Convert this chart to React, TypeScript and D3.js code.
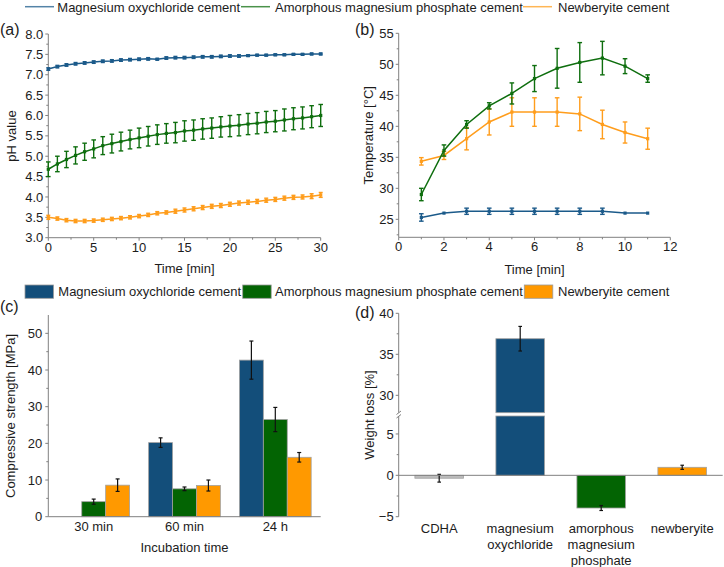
import React from 'react';
import * as d3 from 'd3';

const FONT = '"Liberation Sans", Arial, Helvetica, sans-serif';
const TXT = '#1c1c1c';
const AX = '#808080';

const seriesNames = ['Magnesium oxychloride cement', 'Amorphous magnesium phosphate cement', 'Newberyite cement'];
const lineColors = ['#1b5a8a', '#0e6e0e', '#ff9d1c'];
const barColors = ['#134e7a', '#036403', '#ff9900'];
const grayColor = '#bdbdbd';

// Panel (a): pH vs time
const timeA = [0,1,2,3,4,5,6,7,8,9,10,11,12,13,14,15,16,17,18,19,20,21,22,23,24,25,26,27,28,29,30];
const phMOC = [7.14,7.20,7.24,7.27,7.29,7.31,7.33,7.34,7.36,7.37,7.38,7.39,7.38,7.41,7.42,7.42,7.43,7.44,7.44,7.45,7.46,7.46,7.47,7.48,7.48,7.49,7.49,7.50,7.50,7.51,7.51];
const phMOCErr = [0.03,0.03,0.03,0.03,0.03,0.03,0.03,0.03,0.03,0.03,0.03,0.03,0.02,0.03,0.03,0.03,0.03,0.03,0.03,0.03,0.03,0.03,0.02,0.02,0.02,0.02,0.02,0.02,0.02,0.02,0.02];
const phAMPC = [4.68,4.81,4.92,5.02,5.11,5.18,5.26,5.31,5.36,5.41,5.45,5.49,5.53,5.56,5.58,5.62,5.64,5.67,5.69,5.72,5.74,5.76,5.79,5.81,5.84,5.86,5.89,5.92,5.94,5.97,6.0];
const phAMPCErr = [0.18,0.19,0.2,0.21,0.21,0.22,0.22,0.23,0.23,0.23,0.24,0.24,0.24,0.24,0.25,0.25,0.25,0.25,0.25,0.25,0.26,0.26,0.26,0.26,0.26,0.26,0.27,0.27,0.27,0.27,0.27];
const phNB = [3.5,3.47,3.43,3.41,3.41,3.42,3.44,3.46,3.48,3.5,3.53,3.56,3.6,3.62,3.65,3.68,3.71,3.74,3.77,3.79,3.82,3.85,3.87,3.89,3.92,3.94,3.97,3.99,4.0,4.02,4.05];
const phNBErr = [0.05,0.04,0.04,0.04,0.04,0.04,0.04,0.04,0.04,0.04,0.04,0.04,0.04,0.04,0.05,0.05,0.05,0.05,0.05,0.05,0.05,0.05,0.05,0.05,0.05,0.05,0.05,0.05,0.05,0.06,0.06];
const xTicksA = [0,5,10,15,20,25,30];
const yTicksA = [3.0,3.5,4.0,4.5,5.0,5.5,6.0,6.5,7.0,7.5,8.0];

// Panel (b): temperature vs time
const timeB = [1,2,3,4,5,6,7,8,9,10,11];
const tMOC = [25.3,26.0,26.3,26.3,26.3,26.3,26.3,26.3,26.3,26.0,26.0];
const tMOCErr = [0.6,0,0.5,0.5,0.5,0.5,0.5,0.5,0.5,0,0];
const tAMPC = [29.0,36.1,40.3,43.3,45.3,47.7,49.35,50.3,51.0,49.7,47.7];
const tAMPCErr = [1.0,0.9,0.6,0.5,1.7,2.1,3.2,3.2,2.7,1.2,0.6];
const tNB = [34.35,35.3,38.0,40.7,42.3,42.3,42.3,42.0,40.3,39.0,38.0];
const tNBErr = [0.6,0.65,1.8,2.1,2.3,2.3,2.3,2.7,2.3,1.7,1.7];
const xTicksB = [0,2,4,6,8,10,12];
const yTicksB = [25,30,35,40,45,50,55];

// Panel (c): compressive strength
const incubation = ['30 min', '60 min', '24 h'];
const csMOC = [0, 20.2, 42.7];
const csMOCErr = [0, 1.3, 5.2];
const csAMPC = [4.1, 7.6, 26.5];
const csAMPCErr = [0.7, 0.5, 3.3];
const csNB = [8.6, 8.5, 16.2];
const csNBErr = [1.7, 1.5, 1.3];
const yTicksC = [0,10,20,30,40,50];

// Panel (d): weight loss
const wlCats = ['CDHA', 'magnesium oxychloride', 'amorphous magnesium phosphate', 'newberyite'];
const wlLabels = [['CDHA'], ['magnesium', 'oxychloride'], ['amorphous', 'magnesium', 'phosphate'], ['newberyite']];
const wlValues = [-0.35, 36.9, -3.95, 0.97];
const wlErr = [0.47, 1.5, 0.3, 0.25];
const yTicksDLow = [-5, 0, 5];
const yTicksDHigh = [30, 35, 40];

function mids(arr: number[]) {
  const out: number[] = [];
  for (let i = 0; i < arr.length - 1; i++) out.push((arr[i] + arr[i + 1]) / 2);
  return out;
}

function YAxis({ x, scale, ticks, minor, fmt, y0, y1, gap = 5 }: any) {
  return (
    <g>
      <line x1={x} x2={x} y1={y0} y2={y1} stroke={AX} strokeWidth={1} />
      {ticks.map((t: number, i: number) => (
        <g key={'t' + i}>
          <line x1={x - 3} x2={x} y1={scale(t)} y2={scale(t)} stroke={AX} />
          <text x={x - gap} y={scale(t)} dy="0.35em" textAnchor="end" fontSize={13} fill={TXT}>{fmt(t)}</text>
        </g>
      ))}
      {minor.map((t: number, i: number) => (
        <line key={'m' + i} x1={x - 2} x2={x} y1={scale(t)} y2={scale(t)} stroke={AX} />
      ))}
    </g>
  );
}

function XAxis({ y, scale, ticks, minor, fmt, x0, x1 }: any) {
  return (
    <g>
      <line x1={x0} x2={x1} y1={y} y2={y} stroke={AX} strokeWidth={1} />
      {ticks.map((t: number, i: number) => (
        <g key={'t' + i}>
          <line x1={scale(t)} x2={scale(t)} y1={y} y2={y + 3} stroke={AX} />
          <text x={scale(t)} y={y + 14} textAnchor="middle" fontSize={13} fill={TXT}>{fmt(t)}</text>
        </g>
      ))}
      {minor.map((t: number, i: number) => (
        <line key={'m' + i} x1={scale(t)} x2={scale(t)} y1={y} y2={y + 2} stroke={AX} />
      ))}
    </g>
  );
}

function Series({ xs, ys, errs, xScale, yScale, color, cap = 2.5 }: any) {
  const line = d3.line<number>().x((_, i) => xScale(xs[i])).y((d) => yScale(d));
  return (
    <g>
      <path d={line(ys) || ''} fill="none" stroke={color} strokeWidth={1.5} />
      {ys.map((v: number, i: number) => {
        const cx = xScale(xs[i]);
        const e = errs[i];
        return (
          <g key={i}>
            {e > 0 && (
              <g stroke={color} strokeWidth={1.4}>
                <line x1={cx} x2={cx} y1={yScale(v - e)} y2={yScale(v + e)} />
                <line x1={cx - cap} x2={cx + cap} y1={yScale(v - e)} y2={yScale(v - e)} />
                <line x1={cx - cap} x2={cx + cap} y1={yScale(v + e)} y2={yScale(v + e)} />
              </g>
            )}
            <rect x={cx - 1.6} y={yScale(v) - 1.6} width={3.2} height={3.2} fill={color} />
          </g>
        );
      })}
    </g>
  );
}

function ErrBar({ cx, yTop, yBot, cap = 2 }: any) {
  return (
    <g stroke="#111" strokeWidth={1.2}>
      <line x1={cx} x2={cx} y1={yTop} y2={yBot} />
      <line x1={cx - cap} x2={cx + cap} y1={yTop} y2={yTop} />
      <line x1={cx - cap} x2={cx + cap} y1={yBot} y2={yBot} />
    </g>
  );
}

export default function App() {
  const f1 = d3.format('.1f');
  const f0 = d3.format('d');

  // (a)
  const xA = d3.scaleLinear().domain([0, 30]).range([48.3, 320.7]);
  const yA = d3.scaleLinear().domain([3, 8]).range([237.7, 34]);
  // (b)
  const xB = d3.scaleLinear().domain([0, 12]).range([398.7, 670.3]);
  const yB = d3.scaleLinear().domain([22.1, 55]).range([237.3, 33.3]);
  // (c)
  const xC = d3.scaleBand<string>().domain(incubation).range([48.3, 320.7]).padding(0);
  const yC = d3.scaleLinear().domain([0, 55]).range([516.7, 315]);
  const groupW = xC.bandwidth() * 0.79;
  const xCin = d3.scaleBand<number>().domain([0, 1, 2]).range([0, groupW]).padding(0);
  const csVals = [csMOC, csAMPC, csNB];
  const csErrs = [csMOCErr, csAMPCErr, csNBErr];
  // (d)
  const xD = d3.scaleBand<string>().domain(wlCats).range([398.7, 722.7]).padding(0);
  const lowTop = 7.17;
  const highBot = 27.88;
  const yDLow = d3.scaleLinear().domain([-5, lowTop]).range([516.7, 416]);
  const yDHigh = d3.scaleLinear().domain([highBot, 40]).range([412.7, 313.3]);
  const dColors = [grayColor, barColors[0], barColors[1], barColors[2]];
  const yD = (v: number) => (v > lowTop ? yDHigh(v) : yDLow(v));

  const lineLegendX = [[25, 57.3], [241, 275], [523, 558]];
  const barLegendX = [[25, 58.3], [242.7, 275], [524.3, 558]];

  return (
    <div style={{ position: 'absolute', left: 0, top: 0 }}>
      <svg width={724} height={567} style={{ display: 'block', background: '#fff' }} fontFamily={FONT}>
        {/* top line legend */}
        {seriesNames.map((n, i) => (
          <g key={'ll' + i}>
            <line x1={lineLegendX[i][0]} x2={lineLegendX[i][0] + 29} y1={6.7} y2={6.7} stroke={lineColors[i]} strokeWidth={1.5} strokeOpacity={0.75} />
            <text x={lineLegendX[i][1]} y={11.5} fontSize={13} fill={TXT}>{n}</text>
          </g>
        ))}

        {/* Panel (a) */}
        <text x={0} y={35} fontSize={16} fill={TXT}>(a)</text>
        <YAxis x={48.3} scale={yA} ticks={yTicksA} minor={mids(yTicksA)} fmt={f1} y0={yA(8)} y1={yA(3)} />
        <XAxis y={237.7} scale={xA} ticks={xTicksA} minor={mids(xTicksA)} fmt={f0} x0={xA(0)} x1={xA(30)} />
        <Series xs={timeA} ys={phNB} errs={phNBErr} xScale={xA} yScale={yA} color={lineColors[2]} cap={2} />
        <Series xs={timeA} ys={phAMPC} errs={phAMPCErr} xScale={xA} yScale={yA} color={lineColors[1]} cap={2.3} />
        <Series xs={timeA} ys={phMOC} errs={phMOCErr} xScale={xA} yScale={yA} color={lineColors[0]} cap={2} />
        <text transform={`translate(16,136) rotate(-90)`} textAnchor="middle" fontSize={13} fill={TXT}>pH value</text>
        <text x={184.5} y={273} textAnchor="middle" fontSize={13} fill={TXT}>Time [min]</text>

        {/* Panel (b) */}
        <text x={355} y={35} fontSize={16} fill={TXT}>(b)</text>
        <YAxis x={398.7} scale={yB} ticks={yTicksB} minor={[27.5, 32.5, 37.5, 42.5, 47.5, 52.5, 22.5]} fmt={f0} y0={yB(55)} y1={yB(22.1)} />
        <XAxis y={237.3} scale={xB} ticks={xTicksB} minor={mids(xTicksB)} fmt={f0} x0={xB(0)} x1={xB(12)} />
        <Series xs={timeB} ys={tNB} errs={tNBErr} xScale={xB} yScale={yB} color={lineColors[2]} cap={2.3} />
        <Series xs={timeB} ys={tAMPC} errs={tAMPCErr} xScale={xB} yScale={yB} color={lineColors[1]} cap={2.3} />
        <Series xs={timeB} ys={tMOC} errs={tMOCErr} xScale={xB} yScale={yB} color={lineColors[0]} cap={2.3} />
        <text transform={`translate(373,135.3) rotate(-90)`} textAnchor="middle" fontSize={13} fill={TXT}>Temperature [°C]</text>
        <text x={534.5} y={274} textAnchor="middle" fontSize={13} fill={TXT}>Time [min]</text>

        {/* bar legend */}
        {seriesNames.map((n, i) => (
          <g key={'bl' + i}>
            <rect x={barLegendX[i][0]} y={285} width={28.5} height={13.3} fill={barColors[i]} stroke="#9a9a9a" strokeWidth={0.8} />
            <text x={barLegendX[i][1]} y={296} fontSize={13} fill={TXT}>{n}</text>
          </g>
        ))}

        {/* Panel (c) */}
        <text x={0} y={312} fontSize={16} fill={TXT}>(c)</text>
        {incubation.map((g, gi) => {
          const gx = (xC(g) as number) + (xC.bandwidth() - groupW) / 2;
          return (
            <g key={'cg' + gi}>
              {csVals.map((vals, si) => {
                const v = vals[gi];
                if (v <= 0) return null;
                const bx = gx + (xCin(si) as number);
                const bw = xCin.bandwidth();
                const e = csErrs[si][gi];
                return (
                  <g key={'cb' + si}>
                    <rect x={bx} y={yC(v)} width={bw} height={yC(0) - yC(v)} fill={barColors[si]} stroke="#a0a0a0" strokeWidth={0.8} />
                    <ErrBar cx={bx + bw / 2} yTop={yC(v + e)} yBot={yC(v - e)} cap={2} />
                  </g>
                );
              })}
              <text x={(xC(g) as number) + xC.bandwidth() / 2} y={531} textAnchor="middle" fontSize={13} fill={TXT}>{g}</text>
            </g>
          );
        })}
        <YAxis x={48.3} scale={yC} ticks={yTicksC} minor={[5, 15, 25, 35, 45]} fmt={f0} y0={yC(55)} y1={yC(0)} gap={6} />
        <line x1={48.3} x2={320.7} y1={516.7} y2={516.7} stroke={AX} />
        <text transform={`translate(15,416) rotate(-90)`} textAnchor="middle" fontSize={13} fill={TXT}>Compressive strength [MPa]</text>
        <text x={184.5} y={551.5} textAnchor="middle" fontSize={13} fill={TXT}>Incubation time</text>

        {/* Panel (d) */}
        <text x={355} y={318} fontSize={16} fill={TXT}>(d)</text>
        {wlCats.map((c, i) => {
          const bw = xD.bandwidth() * 0.6;
          const bx = (xD(c) as number) + (xD.bandwidth() - bw) / 2;
          const v = wlValues[i];
          const e = wlErr[i];
          const cx = bx + bw / 2;
          return (
            <g key={'db' + i}>
              {v > lowTop ? (
                <g>
                  <rect x={bx} y={yDLow(lowTop)} width={bw} height={yDLow(0) - yDLow(lowTop)} fill={dColors[i]} stroke="#a0a0a0" strokeWidth={0.8} />
                  <rect x={bx} y={yDHigh(v)} width={bw} height={yDHigh(highBot) - yDHigh(v)} fill={dColors[i]} stroke="#a0a0a0" strokeWidth={0.8} />
                </g>
              ) : (
                <rect x={bx} y={Math.min(yDLow(v), yDLow(0))} width={bw} height={Math.abs(yDLow(v) - yDLow(0))} fill={dColors[i]} stroke="#a0a0a0" strokeWidth={0.8} />
              )}
              <ErrBar cx={cx} yTop={yD(v + e)} yBot={yD(v - e)} cap={1.8} />
              {wlLabels[i].map((l, li) => (
                <text key={li} x={cx} y={533 + li * 16} textAnchor="middle" fontSize={13} fill={TXT}>{l}</text>
              ))}
            </g>
          );
        })}
        <line x1={398.7} x2={722.7} y1={yDLow(0)} y2={yDLow(0)} stroke={AX} />
        <YAxis x={398.7} scale={yDLow} ticks={yTicksDLow} minor={[-2.5, 2.5]} fmt={f0} y0={yDLow(lowTop)} y1={yDLow(-5)} />
        <YAxis x={398.7} scale={yDHigh} ticks={yTicksDHigh} minor={[32.5, 37.5]} fmt={f0} y0={yDHigh(40)} y1={yDHigh(highBot)} />
        <line x1={396.5} x2={401} y1={418} y2={414.5} stroke={AX} />
        <line x1={396.5} x2={401} y1={414.5} y2={411} stroke={AX} />
        <text transform={`translate(374,415) rotate(-90)`} textAnchor="middle" fontSize={13} fill={TXT}>Weight loss [%]</text>
      </svg>
    </div>
  );
}
